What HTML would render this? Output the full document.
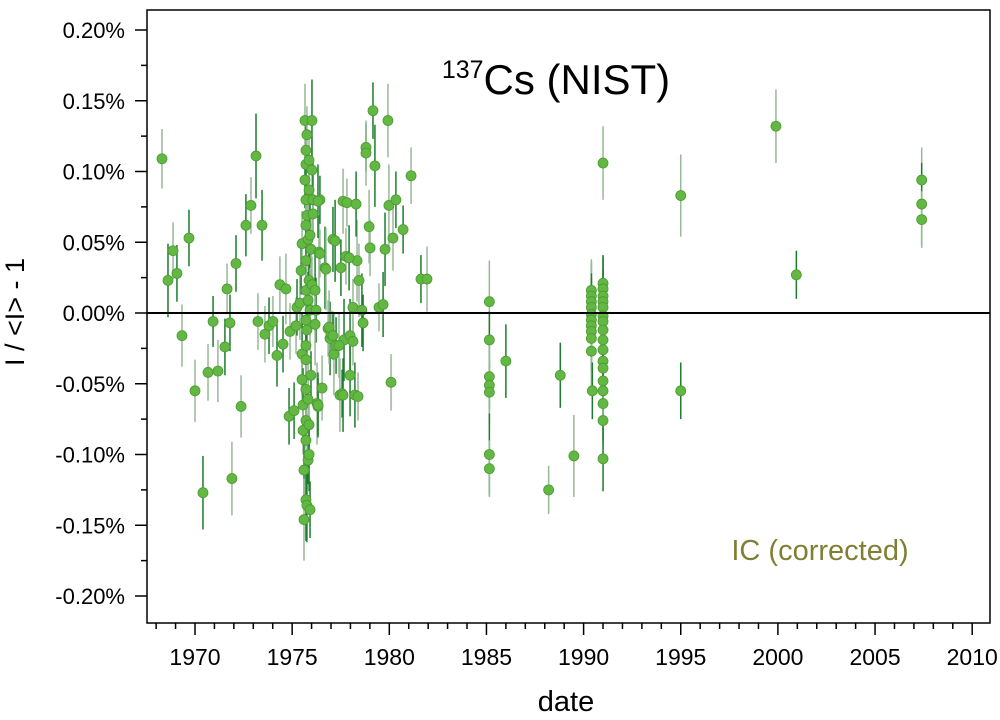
<!DOCTYPE html>
<html><head><meta charset="utf-8"><style>
body{margin:0;background:#fff;}
svg text{font-family:"Liberation Sans",Arial,sans-serif;}
</style></head><body>
<svg id="chart" width="1000" height="715" xmlns="http://www.w3.org/2000/svg">
<rect width="1000" height="715" fill="#fff"/>
<g id="marks"></g>
<g id="axes"></g>
<text x="556" y="94" font-size="42" text-anchor="middle"><tspan font-size="25" dy="-16">137</tspan><tspan dy="16">Cs (NIST)</tspan></text>
<text x="820" y="560" font-size="29" fill="#7f7f35" text-anchor="middle">IC (corrected)</text>
<text x="566" y="711" font-size="29" text-anchor="middle">date</text>
<text transform="translate(24,312) rotate(-90)" font-size="27" text-anchor="middle">I / &lt;I&gt; - 1</text>
</svg>
<script>
const xTicks=[1970,1975,1980,1985,1990,1995,2000,2005,2010];
const yTicks=[0.2,0.15,0.1,0.05,0,-0.05,-0.1,-0.15,-0.2];
const yTickLabels=["0.20%","0.15%","0.10%","0.05%","0.00%","-0.05%","-0.10%","-0.15%","-0.20%"];
const years=[1968.30,1968.61,1968.87,1969.07,1969.33,1969.69,1970.0,1970.41,1970.67,1970.93,1971.18,1971.54,1971.65,1971.80,1971.90,1972.11,1972.37,1972.62,1972.88,1973.14,1973.24,1973.45,1973.60,1973.81,1974.01,1974.22,1974.37,1974.53,1974.68,1974.84,1974.89,1975.10,1975.20,1975.25,
1975.40,1975.46,1975.51,1975.51,1975.51,1975.56,1975.56,1975.61,1975.61,1975.66,1975.66,1975.71,1975.71,1975.71,1975.71,1975.71,1975.71,1975.71,1975.71,1975.71,1975.71,1975.71,1975.71,1975.71,1975.76,1975.76,1975.76,1975.76,1975.82,1975.82,1975.82,1975.82,1975.87,1975.87,1975.87,1975.87,1975.87,1975.92,1975.92,1975.92,1975.97,1975.97,1976.02,1976.02,1976.02,1976.07,1976.07,
1976.23,1976.28,1976.33,1976.38,1976.43,1976.54,1976.69,1976.85,1976.95,1977.0,1977.10,1977.15,1977.26,1977.46,1977.57,1977.62,1977.67,1977.77,1977.98,1978.13,1978.23,1978.34,
1979.16,1979.93,1978.80,1978.80,1979.26,1981.12,1976.33,1977.82,1978.29,1979.98,1980.34,1978.96,1980.71,1980.19,1977.21,1979.01,1979.78,1976.43,1977.93,1976.74,1977.51,1978.44,1981.63,1981.94,1976.18,1978.13,1978.59,1979.47,1979.68,1976.18,1978.65,1976.90,1977.10,1977.41,1977.98,1980.09,1977.62,1978.39,1976.33,
1985.15,1985.15,1985.15,1985.15,1985.15,1985.15,1985.15,1986.0,1988.2,1988.8,1989.5,
1990.4,1990.4,1990.4,1990.4,1990.4,1990.4,1990.4,1990.4,1990.4,1990.4,1990.45,
1991.0,1991.0,1991.0,1991.0,1991.0,1991.0,1991.0,1991.0,1991.0,1991.0,1991.0,1991.0,1991.0,1991.0,1991.0,1991.0,1991.0,1991.0,
1995.0,1995.0,1999.9,2000.95,2007.4,2007.4,2007.4];
const values=[0.109,0.023,0.044,0.028,-0.016,0.053,-0.055,-0.127,-0.042,-0.006,-0.041,-0.024,0.017,-0.007,-0.117,0.035,-0.066,0.062,0.076,0.111,-0.006,0.062,-0.015,-0.009,-0.006,-0.030,0.020,-0.022,0.017,-0.073,-0.013,-0.069,-0.009,0.004,
0.007,0.030,0.049,-0.029,-0.047,-0.065,-0.083,-0.111,-0.146,0.094,0.136,0.115,0.105,0.080,0.062,0.037,0.016,-0.005,-0.023,-0.033,-0.054,-0.076,-0.090,-0.132,0.126,-0.136,0.069,-0.012,0.052,0.009,-0.061,-0.104,0.087,0.023,-0.079,-0.100,0.108,0.055,0.002,-0.139,0.045,-0.044,0.101,0.136,0.020,0.080,0.070,
0.002,-0.064,-0.066,0.043,0.080,-0.053,0.032,-0.011,-0.018,-0.015,0.052,-0.029,-0.023,-0.058,-0.057,0.079,-0.019,0.040,-0.016,-0.020,-0.058,0.037,
0.143,0.136,0.117,0.113,0.104,0.097,0.079,0.078,0.077,0.076,0.080,0.061,0.059,0.053,0.051,0.046,0.045,0.042,0.039,0.031,0.032,0.023,0.024,0.024,0.016,0.004,0.002,0.004,0.006,-0.008,-0.007,-0.010,-0.016,-0.023,-0.044,-0.049,-0.058,-0.059,-0.065,
0.008,-0.019,-0.045,-0.051,-0.056,-0.100,-0.110,-0.034,-0.125,-0.044,-0.101,
0.016,0.012,0.008,0.004,-0.001,-0.005,-0.009,-0.013,-0.018,-0.027,-0.055,
0.106,0.021,0.017,0.012,0.008,0.004,-0.002,-0.006,-0.012,-0.019,-0.026,-0.034,-0.039,-0.048,-0.055,-0.064,-0.076,-0.103,
0.083,-0.055,0.132,0.027,0.094,0.077,0.066];
const errors=[0.021,0.026,0.02,0.02,0.022,0.02,0.022,0.026,0.02,0.018,0.022,0.02,0.018,0.02,0.026,0.02,0.022,0.022,0.02,0.03,0.02,0.025,0.02,0.02,0.018,0.022,0.02,0.02,0.025,0.02,0.02,0.02,0.02,0.02];
const X0=1970,XPX0=195,XPX_PER=19.43,YPX0=313,YPX_PER=1415;
const sx=v=>XPX0+(v-X0)*XPX_PER, sy=v=>YPX0-v*YPX_PER;
const NS="http://www.w3.org/2000/svg";
function mk(t,a,p){const e=document.createElementNS(NS,t);for(const k in a)e.setAttribute(k,a[k]);p.appendChild(e);return e;}
const marks=document.getElementById('marks'),axes=document.getElementById('axes');
const L=147,R=990,T=10,B=623;
years.forEach((yr,i)=>{const er=i<errors.length?errors[i]:(0.017+((i*7)%5)*0.003);
 const x=sx(yr);const l=mk('line',{x1:x,x2:x,y1:sy(values[i]+er),y2:sy(values[i]-er),stroke:i%2?'#1c7d2c':'#98b898','stroke-width':1.5},marks);
 
 });
years.forEach((yr,i)=>{const c=mk('circle',{cx:sx(yr),cy:sy(values[i]),r:5,fill:'#62b843',stroke:'#4a9a30','stroke-width':0.8},marks);
 
 });
const z=mk('line',{x1:L,x2:R,y1:sy(0),y2:sy(0),stroke:'#000','stroke-width':2},axes);


const fr=mk('rect',{x:L,y:T,width:R-L,height:B-T,fill:'none',stroke:'#000','stroke-width':1.5},axes);


for(let y=1968;y<=2010;y++){const x=sx(y);if(x<L||x>R)continue;const maj=y%5===0;
 const t=mk('line',{x1:x,x2:x,y1:B,y2:B+(maj?12:6),stroke:'#000','stroke-width':1.5},axes);
 
 }
xTicks.forEach(v=>{const t=mk('text',{x:sx(v),y:B+42,'font-size':23,'text-anchor':'middle'},axes);t.textContent=v;
 
 });
for(let k=-8;k<=8;k++){const v=k*0.025;const y=sy(v);if(y<T||y>B)continue;const maj=k%2===0;
 const t=mk('line',{x1:L-(maj?12:6),x2:L,y1:y,y2:y,stroke:'#000','stroke-width':1.5},axes);
 
 }
yTicks.forEach((v,i)=>{const t=mk('text',{x:L-22,y:sy(v)+8,'font-size':22,'text-anchor':'end'},axes);t.textContent=yTickLabels[i];
 
 });
</script>
</body></html>
